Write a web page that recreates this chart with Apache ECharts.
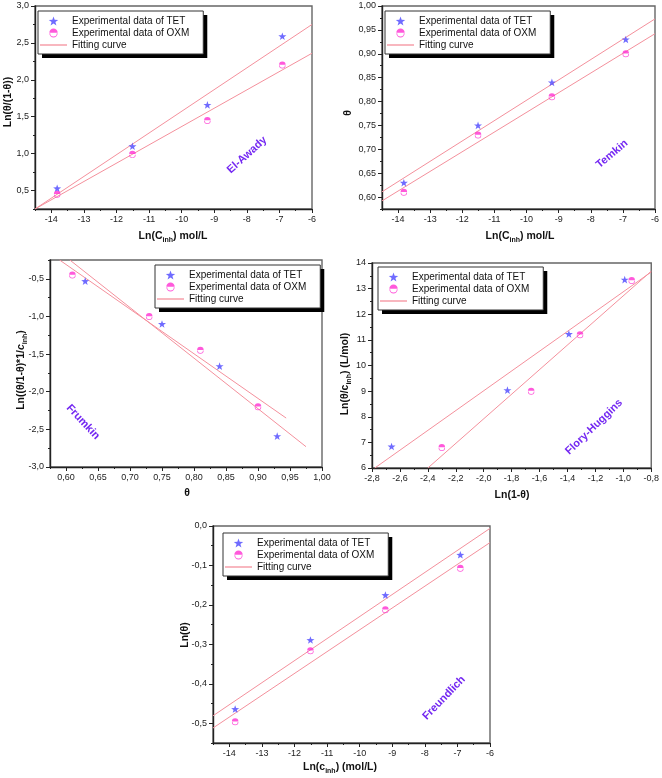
<!DOCTYPE html>
<html><head><meta charset="utf-8">
<script src="https://cdn.jsdelivr.net/npm/echarts@6/dist/echarts.min.js"></script>
<style>html,body{margin:0;padding:0;background:#fff}#c{width:662px;height:778px}</style>
</head><body><div id="c"></div>
<script>
// ---------- DATA ----------
const lnC = [-13.82, -11.51, -9.21, -6.91];

// El-Awady
const awadyTET = [0.53, 1.10, 1.66, 2.59];
const awadyOXM = [0.45, 0.99, 1.45, 2.20];
const awadyFitX = [-14.5, -6];
const awadyFitTET = [0.25, 2.75];
const awadyFitOXM = [0.25, 2.36];

// Temkin
const temkinTET = [0.63, 0.75, 0.84, 0.93];
const temkinOXM = [0.61, 0.73, 0.81, 0.90];
const temkinFitX = [-14.5, -6];
const temkinFitTET = [0.611, 0.973];
const temkinFitOXM = [0.592, 0.942];

// Frumkin
const frumkinTETx = [0.63, 0.75, 0.84, 0.93];
const frumkinTETy = [-0.53, -1.10, -1.66, -2.59];
const frumkinOXMx = [0.61, 0.73, 0.81, 0.90];
const frumkinOXMy = [-0.45, -1.00, -1.45, -2.20];
const frumkinFitTETx = [0.606, 0.975];
const frumkinFitTETy = [-0.25, -2.73];
const frumkinFitOXMx = [0.590, 0.944];
const frumkinFitOXMy = [-0.25, -2.35];

// Flory-Huggins
const floryTETx = [-2.66, -1.83, -1.39, -0.99];
const floryTETy = [6.84, 9.04, 11.23, 13.35];
const floryOXMx = [-2.30, -1.66, -1.31, -0.94];
const floryOXMy = [6.80, 9.00, 11.20, 13.32];
const floryFitTETx = [-2.78, -0.8];
const floryFitTETy = [6.0, 13.65];
const floryFitOXMx = [-2.40, -0.8];
const floryFitOXMy = [6.0, 13.68];

// Freundlich
const freundTET = [-0.464, -0.289, -0.175, -0.073];
const freundOXM = [-0.496, -0.316, -0.212, -0.107];
const freundFitX = [-14.5, -6];
const freundFitTET = [-0.481, -0.006];
const freundFitOXM = [-0.512, -0.042];

// Tick labels (major) per axis
const ticksLnC = [-14, -13, -12, -11, -10, -9, -8, -7, -6];
const ticksAwadyY = [0.5, 1.0, 1.5, 2.0, 2.5, 3.0];
const ticksTheta = [0.60, 0.65, 0.70, 0.75, 0.80, 0.85, 0.90, 0.95, 1.00];
const ticksFrumkinY = [-3.0, -2.5, -2.0, -1.5, -1.0, -0.5];
const ticksFloryX = [-2.8, -2.6, -2.4, -2.2, -2.0, -1.8, -1.6, -1.4, -1.2, -1.0, -0.8];
const ticksFloryY = [6, 7, 8, 9, 10, 11, 12, 13, 14];
const ticksFreundY = [-0.5, -0.4, -0.3, -0.2, -0.1, 0.0];

// ---------- STYLE ----------
const FONT = 'Liberation Sans';
const starPath = 'path://M0,-10 L2.35,-3.24 L9.51,-3.09 L3.8,1.24 L5.88,8.09 L0,4 L-5.88,8.09 L-3.8,1.24 L-9.51,-3.09 L-2.35,-3.24 Z';
const halfCirclePath = 'path://M-5,0 A5,5 0 0 1 5,0 Z M5,0.8 A5,5 0 0 1 -5,0.8 L-3.9,0.8 A3.9,3.9 0 0 0 3.9,0.8 Z';
const linePath = 'path://M0,0 L27,0 L27,1.3 L0,1.3 Z';
const TET_COLOR = '#4b46ff';
const OXM_COLOR = '#ff2fd2';
const FIT_COLOR = '#f4909c';
const NAME_TET = 'Experimental data of TET';
const NAME_OXM = 'Experimental data of OXM';
const NAME_FIT = 'Fitting curve';

function zip(xs, ys) { return xs.map((x, i) => [x, ys[i]]); }
function fmt(d) {
  return v => {
    let s = Number(v).toFixed(d);
    if (/^-0[.,]?0*$/.test(s)) s = s.slice(1);
    return s.replace('.', ',');
  };
}
function minorsBetween(majors, min, max) {
  const step = (majors[1] - majors[0]) / 2;
  const out = [];
  for (let v = majors[0] - step; v >= min - 1e-9; v -= 2 * step) out.push(+v.toFixed(6));
  for (let i = 0; i < majors.length - 1; i++) out.push(+(majors[i] + step).toFixed(6));
  const last = majors[majors.length - 1] + step;
  if (last <= max + 1e-9) out.push(+last.toFixed(6));
  return out;
}

const xAxes = [], yAxes = [];
function addAxes(arr, gi, min, max, majors, dec, pos) {
  const base = { gridIndex: gi, type: 'value', min, max, position: pos, splitLine: { show: false } };
  arr.push(Object.assign({}, base, {
    axisLine: { show: true, onZero: false, lineStyle: { color: '#222', width: 1.4 } },
    axisTick: { show: true, inside: false, length: 4, customValues: majors, lineStyle: { color: '#222', width: 1 } },
    axisLabel: { show: true, customValues: majors, formatter: fmt(dec), fontSize: 9, color: '#222', fontFamily: FONT, margin: 6 }
  }));
  arr.push(Object.assign({}, base, {
    axisLine: { show: false, onZero: false },
    axisTick: { show: true, inside: false, length: 2, customValues: minorsBetween(majors, min, max), lineStyle: { color: '#222', width: 1 } },
    axisLabel: { show: false }
  }));
}

const grids = [
  { left: 35, top: 6, width: 277, height: 203 },
  { left: 382, top: 6, width: 275, height: 203 },
  { left: 50, top: 260, width: 272, height: 207 },
  { left: 372, top: 263, width: 284, height: 205 },
  { left: 213, top: 526, width: 277, height: 217 }
].map(g => Object.assign({ show: true, borderColor: '#666', borderWidth: 1.4, backgroundColor: 'transparent' }, g));

addAxes(xAxes, 0, -14.5, -6, ticksLnC, 0, 'bottom');
addAxes(yAxes, 0, 0.25, 3.0, ticksAwadyY, 1, 'left');
addAxes(xAxes, 1, -14.5, -6, ticksLnC, 0, 'bottom');
addAxes(yAxes, 1, 0.575, 1.0, ticksTheta, 2, 'left');
addAxes(xAxes, 2, 0.575, 1.0, ticksTheta, 2, 'bottom');
addAxes(yAxes, 2, -3.0, -0.25, ticksFrumkinY, 1, 'left');
addAxes(xAxes, 3, -2.8, -0.8, ticksFloryX, 1, 'bottom');
addAxes(yAxes, 3, 6, 14, ticksFloryY, 0, 'left');
addAxes(xAxes, 4, -14.5, -6, ticksLnC, 0, 'bottom');
addAxes(yAxes, 4, -0.55, 0.0, ticksFreundY, 1, 'left');

const series = [];
function addPanel(gi, tet, oxm, fitT, fitO) {
  const ax = { xAxisIndex: 2 * gi, yAxisIndex: 2 * gi };
  series.push(Object.assign({ type: 'line', name: NAME_FIT, data: fitT, symbol: 'none', lineStyle: { color: FIT_COLOR, width: 1 }, itemStyle: { color: FIT_COLOR }, z: 2, silent: true }, ax));
  series.push(Object.assign({ type: 'line', name: NAME_FIT, data: fitO, symbol: 'none', lineStyle: { color: FIT_COLOR, width: 1 }, itemStyle: { color: FIT_COLOR }, z: 2, silent: true }, ax));
  series.push(Object.assign({ type: 'scatter', name: NAME_TET, data: tet, symbol: starPath, symbolKeepAspect: true, symbolSize: 8, itemStyle: { color: TET_COLOR }, z: 3 }, ax));
  series.push(Object.assign({ type: 'scatter', name: NAME_OXM, data: oxm, symbol: halfCirclePath, symbolKeepAspect: true, symbolSize: 7, itemStyle: { color: OXM_COLOR }, z: 3 }, ax));
}
addPanel(0, zip(lnC, awadyTET), zip(lnC, awadyOXM), zip(awadyFitX, awadyFitTET), zip(awadyFitX, awadyFitOXM));
addPanel(1, zip(lnC, temkinTET), zip(lnC, temkinOXM), zip(temkinFitX, temkinFitTET), zip(temkinFitX, temkinFitOXM));
addPanel(2, zip(frumkinTETx, frumkinTETy), zip(frumkinOXMx, frumkinOXMy), zip(frumkinFitTETx, frumkinFitTETy), zip(frumkinFitOXMx, frumkinFitOXMy));
addPanel(3, zip(floryTETx, floryTETy), zip(floryOXMx, floryOXMy), zip(floryFitTETx, floryFitTETy), zip(floryFitOXMx, floryFitOXMy));
addPanel(4, zip(lnC, freundTET), zip(lnC, freundOXM), zip(freundFitX, freundFitTET), zip(freundFitX, freundFitOXM));

// Legends: white box with hard black drop shadow (no border, so the shadow is clean),
// plus an identical, transparent copy on top that only draws the thin border.
function legendAt(left, top, borderOnly) {
  const t = borderOnly ? 'rgba(0,0,0,0)' : null;
  const leg = {
    orient: 'vertical', left, top, padding: [5, 14, 4, 2], itemGap: 2, itemWidth: 27, itemHeight: 9,
    selectedMode: false,
    textStyle: { fontSize: 10, fontFamily: FONT, color: t || '#111', padding: [0, 0, 0, 0] },
    data: [
      { name: NAME_TET, icon: starPath, itemStyle: { color: t || TET_COLOR } },
      { name: NAME_OXM, icon: halfCirclePath, itemStyle: { color: t || OXM_COLOR } },
      { name: NAME_FIT, icon: linePath, itemStyle: { color: t || FIT_COLOR, borderWidth: 0 }, lineStyle: { width: 0 } }
    ]
  };
  if (borderOnly) {
    Object.assign(leg, { backgroundColor: 'transparent', borderColor: '#333', borderWidth: 1, z: 7 });
  } else {
    Object.assign(leg, { backgroundColor: '#fff', borderWidth: 0, z: 6,
      shadowColor: '#000', shadowOffsetX: 4, shadowOffsetY: 4, shadowBlur: 0.01 });
  }
  return leg;
}
const legendPos = [[38, 11], [385, 11], [155, 265], [378, 267], [223, 533]];
const legends = legendPos.map(p => legendAt(p[0], p[1], false))
  .concat(legendPos.map(p => legendAt(p[0], p[1], true)));

const titleRich = {
  b: { fontSize: 10.5, fontWeight: 'bold', fontFamily: FONT, color: '#111', lineHeight: 16 },
  i: { fontSize: 10.5, fontWeight: 'bold', fontStyle: 'italic', fontFamily: FONT, color: '#111', lineHeight: 16 },
  s: { fontSize: 7, fontWeight: 'bold', fontFamily: FONT, color: '#111', lineHeight: 9, verticalAlign: 'bottom' }
};
function title(text, x, y, rot) {
  return { type: 'text', x, y, rotation: rot ? rot * Math.PI / 180 : 0, z: 10,
    style: { text, rich: titleRich, align: 'center', verticalAlign: 'middle', fill: '#111', font: 'bold 10.5px ' + FONT } };
}
function note(text, x, y, rot) {
  return { type: 'text', x, y, rotation: rot * Math.PI / 180, z: 10,
    style: { text, align: 'center', verticalAlign: 'middle', fill: '#7428f2', font: 'bold 11px ' + FONT } };
}
const graphics = [
  title('{b|Ln(C}{s|inh}{b|) mol/L}', 173, 236),
  title('{b|Ln(θ/(1-θ))}', 8, 102, 90),
  title('{b|Ln(C}{s|inh}{b|) mol/L}', 520, 236),
  title('{b|θ}', 348, 113, 90),
  title('{b|θ}', 187, 493),
  title('{b|Ln((θ/1-θ)*1/}{i|c}{s|inh}{b|)}', 21, 370, 90),
  title('{b|Ln(1-θ)}', 512, 495),
  title('{b|Ln(θ/c}{s|inh}{b|) (L/mol)}', 345, 374, 90),
  title('{b|Ln(c}{s|inh}{b|) (mol/L)}', 340, 767),
  title('{b|Ln(θ)}', 185, 635, 90),
  note('El-Awady', 247, 155, 42),
  note('Temkin', 612, 154, 40),
  note('Frumkin', 83, 422, -47),
  note('Flory-Huggins', 594, 427, 44),
  note('Freundlich', 444, 698, 46)
];

const chart = echarts.init(document.getElementById('c'), null, { renderer: 'canvas' });
chart.setOption({
  backgroundColor: '#fff',
  animation: false,
  grid: grids,
  xAxis: xAxes,
  yAxis: yAxes,
  legend: legends,
  series,
  graphic: { elements: graphics }
});
</script></body></html>
